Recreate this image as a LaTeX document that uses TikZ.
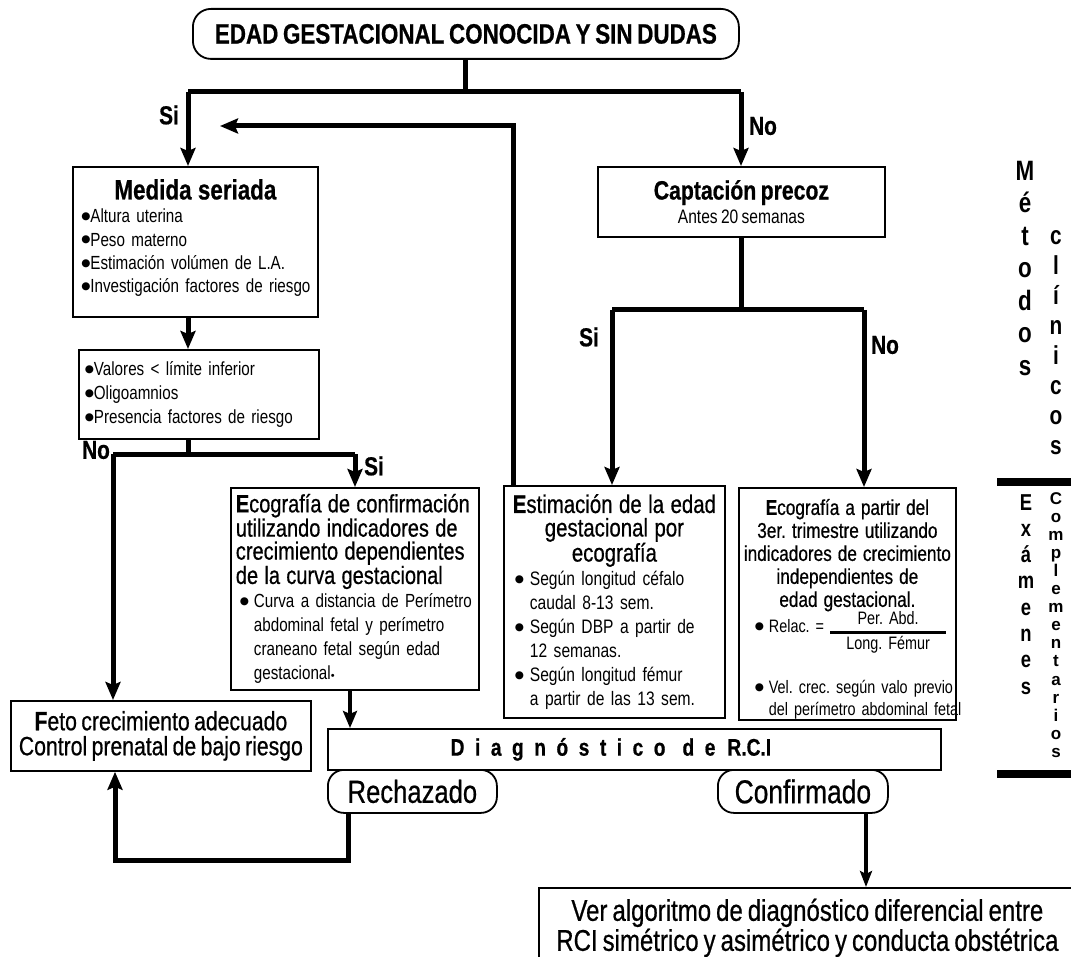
\documentclass[tikz,border=0pt]{standalone}
\usepackage{fontspec}
\setmainfont{Liberation Sans}[FakeStretch=0.8,WordSpace=0.75]
\newfontfamily\semib{Liberation Sans}[FakeStretch=0.8,FakeBold=0.6,WordSpace=0.75]
\newfontfamily\plainf{Liberation Sans}
\newfontfamily\dejavu{DejaVu Sans}
\usetikzlibrary{arrows.meta}
\frenchspacing
\newcommand\fs[2]{\fontsize{#1}{#2}\selectfont}
\newcommand\bul{\raisebox{3.2pt}{\dejavu\fs{10.5}{11}●}}
\newcommand\bitem[2][13pt]{\mbox{\makebox[#1][l]{\bul}#2}}
\newcommand\bcont[2][13pt]{\mbox{\hspace*{#1}#2}}
\newcommand\ls[1]{#1\kern 10.5pt}
\tikzset{
 box/.style={draw, line width=1.8pt, inner sep=0pt, anchor=north west},
 rbox/.style={box, rounded corners=18pt},
 conn/.style={line width=5pt},
 arr/.style={conn, -{Stealth[length=18pt,width=15pt,inset=3pt]}},
 arrmid/.style={line width=4pt, -{Stealth[length=17pt,width=14pt,inset=3pt]}},
 arrthin/.style={line width=3.2pt, -{Stealth[length=16pt,width=12pt,inset=3pt]}},
 lab/.style={font=\semib\bfseries\fs{26}{28}, inner sep=0pt},
 vlab/.style={align=center, inner sep=0pt, anchor=north},
 sidebar/.style={line width=8pt},
}
\begin{document}
\begin{tikzpicture}[x=1pt,y=-1pt]
\useasboundingbox (0,0) rectangle (1071,957);
\fill[white] (0,0) rectangle (1071,957);

% nodes
\node[rbox, minimum width=546pt, minimum height=50pt, font=\semib\bfseries\fs{28}{30}] (top) at (192,8) {EDAD GESTACIONAL CONOCIDA Y SIN DUDAS};

\node[box, minimum width=245pt, minimum height=150pt, text width=228pt, align=left, font=\fs{19}{23.3}] (med) at (72,166)
 {{\centering\semib\bfseries\fs{28}{28}Medida seriada\par}
  \bitem[9pt]{Altura uterina}\\
  \bitem[9pt]{Peso materno}\\
  \bitem[9pt]{Estimación volúmen de L.A.}\\
  \bitem[9pt]{Investigación factores de riesgo}\rule[-12pt]{0pt}{12pt}};

\node[box, minimum width=240pt, minimum height=89pt, text width=228pt, align=left, font=\fs{19}{24}] (b2) at (78,349)
 {\bitem[9pt]{Valores < límite inferior}\\
  \bitem[9pt]{Oligoamnios}\\
  \bitem[9pt]{Presencia factores de riesgo}};

\node[box, minimum width=287pt, minimum height=70pt, align=center, font=\fs{19.5}{24}] (cap) at (597,166)
 {{\semib\bfseries\fs{26.5}{28}Captación precoz}\\Antes 20 semanas};

\node[box, minimum width=248pt, minimum height=202pt, text width=238pt, align=left, font=\fs{19}{24}] (eco1) at (230,487)
 {{\semib\fs{25}{23}\mbox{{\bfseries E}cografía de confirmación}\\\mbox{utilizando indicadores de}\\\mbox{crecimiento dependientes}\\\mbox{de la curva gestacional}\par}
  \hspace*{4pt}\bitem[14pt]{Curva a distancia de Perímetro}\\
  \bcont[18pt]{abdominal fetal y perímetro}\\
  \bcont[18pt]{craneano fetal según edad}\\
  \bcont[18pt]{gestacional{\plainf\fs{11}{11}\textbullet}}};

\node[box, minimum width=221pt, minimum height=232pt, text width=207pt, align=left, font=\fs{19.5}{24}] (est) at (503,485)
 {{\centering\semib\fs{25.5}{23.5}\mbox{{\bfseries E}stimación de la edad}\\gestacional por\\ecografía\par}
  \hspace*{4pt}\bitem[15pt]{Según longitud céfalo}\\
  \bcont[19pt]{caudal 8-13 sem.}\\
  \hspace*{4pt}\bitem[15pt]{Según DBP a partir de}\\
  \bcont[19pt]{12 semanas.}\\
  \hspace*{4pt}\bitem[15pt]{Según longitud fémur}\\
  \bcont[19pt]{a partir de las 13 sem.}};

\node[box, minimum width=217pt, minimum height=230pt, text width=209pt, align=left, font=\fs{18}{22}] (eco2) at (738,487)
 {{\centering\semib\fs{21.5}{23}\rule{0pt}{27pt}\mbox{{\bfseries E}cografía a partir del}\\\mbox{3er. trimestre utilizando}\\\mbox{indicadores de crecimiento}\\\mbox{independientes de}\\\mbox{edad gestacional.}\par}\vspace{4pt}
  \hspace*{12pt}\bitem[14pt]{Relac. = \smash{\raisebox{-4pt}{{\setlength\arrayrulewidth{3.5pt}\setlength\tabcolsep{0pt}\renewcommand\arraystretch{1.0}\begin{tabular}[c]{c}\makebox[116pt]{Per. Abd.}\\\hline Long. Fémur\end{tabular}}}}}\\[39pt]
  \hspace*{12pt}\bitem[14pt]{Vel. crec. según valo previo}\\
  \bcont[26pt]{del perímetro abdominal fetal}};

\node[box, minimum width=300pt, minimum height=70pt, align=center, font=\semib\fs{26.5}{25}] (feto) at (10,700)
 {{\bfseries F}eto crecimiento adecuado\\Control prenatal de bajo riesgo};

\node[box, minimum width=613pt, minimum height=41pt, font=\semib\bfseries\fs{24}{26}] (diag) at (327,728)
 {\ls D\ls i\ls a\ls g\ls n\ls ó\ls s\ls t\ls i\ls c{o}\kern17pt d\kern10.5pt e\kern12pt R.C.I\kern47pt};

\node[rbox, rounded corners=16pt, minimum width=169pt, minimum height=43pt, font=\semib\fs{32}{32}] (rech) at (327,769) {Rechazado};
\node[rbox, rounded corners=16pt, minimum width=170pt, minimum height=43pt, font=\semib\fs{33}{32}] (conf) at (717,769) {Confirmado};

\node[box, minimum width=537pt, minimum height=80pt, align=center, font=\semib\fs{30}{30}] (ver) at (538,887)
 {Ver algoritmo de diagnóstico diferencial entre\\RCI simétrico y asimétrico y conducta obstétrica};

% labels
\node[lab] (siA) at (169,115) {Si};
\node[lab] (noA) at (763,126) {No};
\node[lab] (noB) at (96,450) {No};
\node[lab] (siB) at (374,466) {Si};
\node[lab] (siC) at (589,337) {Si};
\node[lab] (noC) at (885,345) {No};

% side labels
\node[vlab, font=\bfseries\fs{28}{32.5}] (met) at (1025,161) {M\\é\\t\\o\\d\\o\\s};
\node[vlab, font=\bfseries\fs{26}{30}] (cli) at (1056,230) {c\\l\\í\\n\\i\\c\\o\\s};
\node[vlab, font=\bfseries\fs{23}{26.3}] (exa) at (1026,494) {E\\x\\á\\m\\e\\n\\e\\s};
\node[vlab, font=\plainf\bfseries\fs{17}{18.1}] (com) at (1056,492) {C\\o\\m\\p\\l\\e\\m\\e\\n\\t\\a\\r\\i\\o\\s};
\draw[sidebar] (997,482) -- (1071,482);
\draw[sidebar] (997,774) -- (1071,774);

% coordinates
\coordinate (tL) at (188,92);
\coordinate (tR) at (741,92);
\coordinate (tM) at (top.south |- tL);
\coordinate (rt) at (513,126);
\coordinate (rtend) at (220,126);
\coordinate (sM) at (188,454);
\coordinate (sL) at (113,454);
\coordinate (sR) at (355,454);
\coordinate (cM) at (741,310);
\coordinate (cL) at (612,310);
\coordinate (cR) at (864,310);
\coordinate (ed) at (350,700);
\coordinate (rb1) at (348,860);
\coordinate (rb2) at (115,860);
\coordinate (cv) at (866,850);

% connectors
\draw[conn] (top.south) -- (tM);
\draw[conn] (tL) -- (tR);
\draw[arr] (tL) -- (tL |- med.north);
\draw[arr] (tR) -- (tR |- cap.north);
\draw[arr] (rt |- est.north) -- (rt) -- (rtend);
\draw[arr] (tL |- med.south) -- (tL |- b2.north);
\draw[conn] (sM |- b2.south) -- (sM);
\draw[conn] (sL) -- (sR);
\draw[arr] (sL) -- (sL |- feto.north);
\draw[arr] (sR) -- (sR |- eco1.north);
\draw[conn] (cM |- cap.south) -- (cM);
\draw[conn] (cL) -- (cR);
\draw[arr] (cL) -- (cL |- est.north);
\draw[arr] (cR) -- (cR |- eco2.north);
\draw[arrmid] (ed |- eco1.south) -- (ed |- diag.north);
\draw[arr] (rb1 |- rech.south) -- (rb1) -- (rb2) -- (rb2 |- feto.south);
\draw[arrthin] (cv |- conf.south) -- (cv |- ver.north);
\end{tikzpicture}
\end{document}
